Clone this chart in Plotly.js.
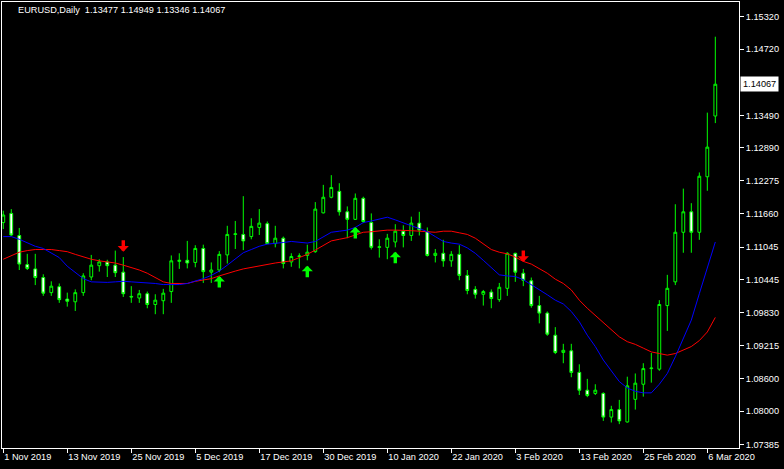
<!DOCTYPE html>
<html>
<head>
<meta charset="utf-8">
<script src="https://cdn.plot.ly/plotly-3.0.1.min.js"></script>
<style>
  html, body { margin: 0; padding: 0; background: #000; }
  #chart { width: 784px; height: 469px; }
</style>
</head>
<body>
<div id="chart"></div>
<script>
// Trading days (one bar per day)
const dates = [
  '2019-11-01','2019-11-04','2019-11-05','2019-11-06','2019-11-07','2019-11-08',
  '2019-11-11','2019-11-12','2019-11-13','2019-11-14','2019-11-15',
  '2019-11-18','2019-11-19','2019-11-20','2019-11-21','2019-11-22',
  '2019-11-25','2019-11-26','2019-11-27','2019-11-28','2019-11-29',
  '2019-12-02','2019-12-03','2019-12-04','2019-12-05','2019-12-06',
  '2019-12-09','2019-12-10','2019-12-11','2019-12-12','2019-12-13',
  '2019-12-16','2019-12-17','2019-12-18','2019-12-19','2019-12-20',
  '2019-12-23','2019-12-24','2019-12-26','2019-12-27',
  '2019-12-30','2019-12-31','2020-01-02','2020-01-03',
  '2020-01-06','2020-01-07','2020-01-08','2020-01-09','2020-01-10',
  '2020-01-13','2020-01-14','2020-01-15','2020-01-16','2020-01-17',
  '2020-01-20','2020-01-21','2020-01-22','2020-01-23','2020-01-24',
  '2020-01-27','2020-01-28','2020-01-29','2020-01-30','2020-01-31',
  '2020-02-03','2020-02-04','2020-02-05','2020-02-06','2020-02-07',
  '2020-02-10','2020-02-11','2020-02-12','2020-02-13','2020-02-14',
  '2020-02-17','2020-02-18','2020-02-19','2020-02-20','2020-02-21',
  '2020-02-24','2020-02-25','2020-02-26','2020-02-27','2020-02-28',
  '2020-03-02','2020-03-03','2020-03-04','2020-03-05','2020-03-06',
  '2020-03-09'
];

const openP = [
  1.1150,1.1167,1.1126,1.1072,1.1064,1.1048,1.1020,1.1031,1.1008,1.1003,
  1.1020,1.1049,1.1070,1.1077,1.1071,1.1058,1.1013,1.1010,1.1018,1.0998,
  1.1005,1.1022,1.1078,1.1080,1.1076,1.1102,1.1058,1.1062,1.1090,1.1128,
  1.1128,1.1124,1.1141,1.1148,1.1111,1.1121,1.1077,1.1087,1.1089,1.1096,
  1.1168,1.1197,1.1208,1.1170,1.1156,1.1195,1.1150,1.1104,1.1104,1.1114,
  1.1134,1.1126,1.1149,1.1133,1.1089,1.1093,1.1079,1.1091,1.1052,1.1026,
  1.1017,1.1021,1.1007,1.1028,1.1093,1.1056,1.1042,1.0996,1.0982,1.0941,
  1.0909,1.0912,1.0872,1.0839,1.0833,1.0833,1.0789,1.0803,1.0780,1.0822,
  1.0850,1.0879,1.0878,1.0996,1.1040,1.1132,1.1170,1.1132,1.1235,1.13477
];
const highP = [
  1.1172,1.1175,1.1140,1.1092,1.1092,1.1054,1.1041,1.1037,1.1020,1.1026,
  1.1056,1.1090,1.1082,1.1081,1.1098,1.1086,1.1032,1.1025,1.1022,1.1017,
  1.1027,1.1089,1.1093,1.1116,1.1108,1.1109,1.1076,1.1097,1.1144,1.1153,
  1.1199,1.1158,1.1175,1.1152,1.1144,1.1124,1.1093,1.1093,1.1109,1.1188,
  1.1220,1.1238,1.1223,1.1180,1.1204,1.1198,1.1167,1.1119,1.1129,1.1147,
  1.1145,1.1161,1.1170,1.1141,1.1101,1.1118,1.1097,1.1108,1.1062,1.1032,
  1.1025,1.1026,1.1038,1.1095,1.1094,1.1064,1.1048,1.1014,1.0985,1.0956,
  1.0925,1.0925,1.0887,1.0860,1.0850,1.0835,1.0810,1.0821,1.0864,1.0870,
  1.0889,1.0908,1.1006,1.1053,1.1184,1.1213,1.1186,1.1243,1.1354,1.14949
];
const lowP = [
  1.1138,1.1125,1.1062,1.1062,1.1034,1.1014,1.1014,1.1001,1.0994,1.0986,
  1.1014,1.1043,1.1059,1.1049,1.1049,1.1012,1.1001,1.1001,1.0991,1.0980,
  1.0980,1.1001,1.1064,1.1065,1.1067,1.1038,1.1038,1.1058,1.1074,1.1101,
  1.1099,1.1119,1.1127,1.1110,1.1104,1.1065,1.1068,1.1065,1.1080,1.1094,
  1.1167,1.1195,1.1163,1.1121,1.1155,1.1149,1.1100,1.1085,1.1082,1.1104,
  1.1104,1.1116,1.1126,1.1087,1.1076,1.1068,1.1068,1.1043,1.1017,1.1009,
  1.0996,1.0991,1.1003,1.1014,1.1040,1.1032,1.0992,1.0963,1.0940,1.0906,
  1.0889,1.0863,1.0830,1.0826,1.0830,1.0782,1.0779,1.0776,1.0779,1.0803,
  1.0827,1.0853,1.0875,1.0949,1.1034,1.1094,1.1094,1.1118,1.1209,1.13346
];
const closeP = [
  1.1164,1.1127,1.1073,1.1065,1.1048,1.1019,1.1032,1.1007,1.1004,1.1020,
  1.1051,1.1071,1.1077,1.1070,1.1057,1.1018,1.1012,1.1018,1.0998,1.1006,
  1.1019,1.1079,1.1080,1.1075,1.1102,1.1059,1.1062,1.1091,1.1128,1.1129,
  1.1116,1.1143,1.1149,1.1111,1.1121,1.1074,1.1087,1.1088,1.1095,1.1175,
  1.1197,1.1215,1.1170,1.1156,1.1195,1.1152,1.1104,1.1105,1.1121,1.1134,
  1.1126,1.1149,1.1136,1.1089,1.1093,1.1079,1.1091,1.1052,1.1024,1.1017,
  1.1022,1.1009,1.1030,1.1093,1.1058,1.1043,1.0996,1.0982,1.0943,1.0909,
  1.0913,1.0872,1.0839,1.0829,1.0839,1.0789,1.0803,1.0782,1.0847,1.0852,
  1.0879,1.0880,1.0998,1.1028,1.1132,1.1170,1.1132,1.1236,1.1290,1.14067
];

// Moving averages
const maBlue = [
  1.1124,1.1124,1.1119,1.1113,1.1106,1.1102,1.1094,1.1085,1.1069,1.1057,
  1.1046,1.1040,1.1039,1.1039,1.1040,1.1041,1.1040,1.1039,1.1039,1.1037,
  1.1035,1.1035,1.1035,1.1037,1.1041,1.1046,1.1052,1.1060,1.1071,1.1083,
  1.1094,1.1100,1.1106,1.1110,1.1111,1.1113,1.1115,1.1114,1.1112,1.1115,
  1.1124,1.1132,1.1134,1.1136,1.1141,1.1150,1.1153,1.1156,1.1160,1.1155,
  1.1149,1.1144,1.1139,1.1133,1.1124,1.1115,1.1112,1.1110,1.1103,1.1093,
  1.1080,1.1067,1.1053,1.1051,1.1050,1.1044,1.1035,1.1025,1.1016,1.1006,
  1.0999,1.0985,1.0966,1.0941,1.0920,1.0895,1.0874,1.0855,1.0843,1.0837,
  1.0834,1.0834,1.0850,1.0870,1.0901,1.0935,1.0969,1.1018,1.1068,1.1114
];
const maRed = [
  1.1082,1.1088,1.1095,1.1098,1.1100,1.1100,1.1100,1.1098,1.1096,1.1091,
  1.1086,1.1082,1.1079,1.1077,1.1075,1.1071,1.1067,1.1062,1.1056,1.1048,
  1.1040,1.1037,1.1037,1.1037,1.1041,1.1044,1.1046,1.1051,1.1056,1.1060,
  1.1064,1.1067,1.1070,1.1072,1.1075,1.1077,1.1079,1.1085,1.1091,1.1099,
  1.1108,1.1116,1.1119,1.1122,1.1127,1.1132,1.1133,1.1135,1.1136,1.1136,
  1.1136,1.1135,1.1134,1.1133,1.1132,1.1134,1.1134,1.1131,1.1128,1.1121,
  1.1111,1.1100,1.1095,1.1092,1.1086,1.1078,1.1073,1.1065,1.1056,1.1045,
  1.1037,1.1025,1.1006,1.0991,1.0978,1.0965,1.0952,1.0938,1.0929,1.0924,
  1.0917,1.0910,1.0907,1.0904,1.0907,1.0913,1.0920,1.0931,1.0947,1.0974
];

// Signal arrows (bar index, arrow-tip price)
const upIdx = [27, 38, 44, 49];
const upPrice = [1.1051, 1.1070, 1.1142, 1.1096];
const downIdx = [15, 65];
const downPrice = [1.1096, 1.1077];

// Axis labels
const tickDates = ['2019-11-01','2019-11-13','2019-11-25','2019-12-05','2019-12-17','2019-12-30',
                   '2020-01-10','2020-01-22','2020-02-03','2020-02-13','2020-02-25','2020-03-06'];
const tickLabels = ['1 Nov 2019','13 Nov 2019','25 Nov 2019','5 Dec 2019','17 Dec 2019','30 Dec 2019',
                    '10 Jan 2020','22 Jan 2020','3 Feb 2020','13 Feb 2020','25 Feb 2020','6 Mar 2020'];
const priceTicks = [1.15320,1.14720,1.13490,1.12890,1.12275,1.11660,1.11045,
                    1.10445,1.09830,1.09215,1.08600,1.08000,1.07385];
const lastPrice = 1.14067;
const titleText = 'EURUSD,Daily  1.13477 1.14949 1.13346 1.14067';

const FONT = 'Liberation Sans, Arial, sans-serif';
const FS = 9.2;

const traces = [
  {
    type: 'candlestick', x: dates,
    open: openP, high: highP, low: lowP, close: closeP,
    increasing: { line: { color: '#00ff00', width: 1 }, fillcolor: '#000000' },
    decreasing: { line: { color: '#00ff00', width: 1 }, fillcolor: '#ffffff' },
    whiskerwidth: 0, hoverinfo: 'skip', showlegend: false
  },
  { type: 'scatter', mode: 'lines', x: dates, y: maRed,
    line: { color: '#ff0000', width: 1 }, hoverinfo: 'skip', showlegend: false },
  { type: 'scatter', mode: 'lines', x: dates, y: maBlue,
    line: { color: '#0000ff', width: 1 }, hoverinfo: 'skip', showlegend: false }
];

const annotations = [];
function addArrow(k, price, color, dir) {
  annotations.push({
    x: dates[k], y: price, xref: 'x', yref: 'y', text: '',
    showarrow: true, arrowhead: 1, arrowsize: 0.55, arrowwidth: 3.4,
    arrowcolor: color, ax: 0, ay: 13 * dir, standoff: 0
  });
}
upIdx.forEach((k, j) => addArrow(k, upPrice[j], '#00ff00', 1));
downIdx.forEach((k, j) => addArrow(k, downPrice[j], '#ff0000', -1));
annotations.push({
  x: 1, xref: 'paper', xanchor: 'left', xshift: 1,
  y: lastPrice, yref: 'y', yanchor: 'middle',
  text: lastPrice.toFixed(5), showarrow: false,
  bgcolor: '#ffffff', borderpad: 2,
  font: { family: FONT, size: FS, color: '#000000' }
});

const layout = {
  width: 784, height: 469, autosize: false,
  paper_bgcolor: '#000000', plot_bgcolor: '#000000',
  margin: { l: 2, r: 45, t: 2, b: 21, pad: 0 },
  font: { family: FONT, size: FS, color: '#ffffff' },
  showlegend: false,
  boxgap: 0.5,
  title: { text: titleText, x: 18 / 784, xanchor: 'left', xref: 'container',
           y: 1 - 10 / 469, yanchor: 'middle', yref: 'container',
           font: { family: FONT, size: FS, color: '#ffffff' } },
  xaxis: {
    type: 'category', range: [-0.16, 91.96],
    rangeslider: { visible: false },
    showgrid: false, zeroline: false,
    showline: true, linecolor: '#ffffff', linewidth: 1, mirror: true,
    ticks: 'outside', ticklen: 4, tickcolor: '#ffffff', tickwidth: 1,
    tickvals: tickDates, ticktext: tickLabels,
    ticklabelposition: 'outside right',
    tickfont: { family: FONT, size: FS, color: '#ffffff' },
    fixedrange: true
  },
  yaxis: {
    side: 'right', range: [1.07317, 1.15593],
    showgrid: false, zeroline: false,
    showline: true, linecolor: '#ffffff', linewidth: 1, mirror: true,
    ticks: 'outside', ticklen: 4, tickcolor: '#ffffff', tickwidth: 1,
    tickvals: priceTicks, ticktext: priceTicks.map(v => v.toFixed(5)),
    tickfont: { family: FONT, size: FS, color: '#ffffff' },
    fixedrange: true
  },
  annotations: annotations
};

Plotly.newPlot('chart', traces, layout, { staticPlot: true, displayModeBar: false });
</script>
</body>
</html>
